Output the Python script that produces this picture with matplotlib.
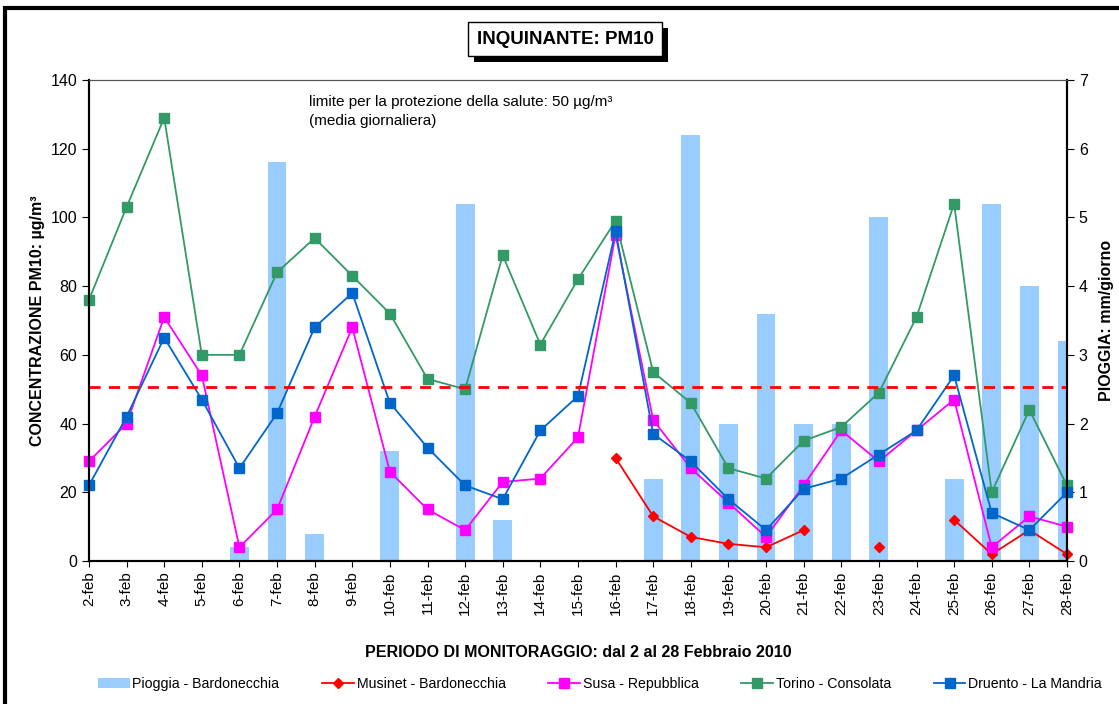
import matplotlib
matplotlib.use("Agg")
import matplotlib.pyplot as plt
from matplotlib.patches import Rectangle, Patch
from matplotlib.lines import Line2D
import matplotlib.patheffects as pe
import numpy as np

plt.rcParams['font.family'] = ['Liberation Sans', 'DejaVu Sans']

days = [f"{d}-feb" for d in range(2, 29)]

pioggia_bardonecchia = [0, 0, 0, 0, 0.2, 5.8, 0.4, 0, 1.6, 0, 5.2, 0.6, 0, 0, 0,
                        1.2, 6.2, 2.0, 3.6, 2.0, 2.0, 5.0, 0, 1.2, 5.2, 4.0, 3.2]
musinet_bardonecchia = [np.nan] * 14 + [30, 13, 7, 5, 4, 9, np.nan, 4, np.nan, 12, 2, 9, 2]
susa_repubblica = [29, 40, 71, 54, 4, 15, 42, 68, 26, 15, 9, 23, 24, 36, 95,
                   41, 27, 17, 7, 22, 38, 29, 38, 47, 4, 13, 10]
torino_consolata = [76, 103, 129, 60, 60, 84, 94, 83, 72, 53, 50, 89, 63, 82, 99,
                    55, 46, 27, 24, 35, 39, 49, 71, 104, 20, 44, 22]
druento_mandria = [22, 42, 65, 47, 27, 43, 68, 78, 46, 33, 22, 18, 38, 48, 96,
                   37, 29, 18, 9, 21, 24, 31, 38, 54, 14, 9, 20]
limite = 50.7

c_rain = '#99CCFF'
c_red = '#FF0000'
c_mag = '#FF00FF'
c_green = '#339966'
c_blue = '#0066CC'

fig = plt.figure(figsize=(11.19, 7.04), dpi=100)
ax = fig.add_axes([0.0795, 0.2031, 0.8740, 0.6833])
ax2 = ax.twinx()
ax.set_zorder(ax2.get_zorder() + 1)
ax.patch.set_visible(False)

x = np.arange(len(days))

# rain bars on secondary axis
ax2.bar(x, pioggia_bardonecchia, width=0.5, color=c_rain, linewidth=0)
ax2.set_ylim(0, 7)
ax2.set_yticks(range(0, 8))

ms = 7
ax.plot(x, musinet_bardonecchia, color=c_red, lw=1.3, marker='D', ms=5.5,
        markeredgecolor=c_red, clip_on=False)
ax.plot(x, susa_repubblica, color=c_mag, lw=1.3, marker='s', ms=ms, clip_on=False)
ax.plot(x, torino_consolata, color=c_green, lw=1.3, marker='s', ms=ms, clip_on=False)
ax.plot(x, druento_mandria, color=c_blue, lw=1.3, marker='s', ms=ms, clip_on=False)
ax.axhline(limite, color=c_red, lw=2, ls=(0, (4, 3)))

ax.set_xlim(0, len(days) - 1)
ax2.set_xlim(0, len(days) - 1)
ax.set_ylim(0, 140)
ax.set_yticks(range(0, 141, 20))
ax.set_xticks(x)
ax.set_xticklabels(days, rotation=90, fontsize=11)
ax.tick_params(axis='y', labelsize=11.5, direction='out', length=5)
ax2.tick_params(axis='y', labelsize=11.5, direction='out', length=5)
ax.tick_params(axis='x', length=4)

for a in (ax, ax2):
    a.spines['top'].set_color('#555555')
    a.spines['left'].set_linewidth(1.5)
    a.spines['right'].set_linewidth(1.5)
    a.spines['bottom'].set_linewidth(1.5)

ax.set_ylabel('CONCENTRAZIONE PM10: µg/m³', fontsize=11.5, fontweight='bold', labelpad=4)
ax2.set_ylabel('PIOGGIA: mm/giorno', fontsize=11.5, fontweight='bold', labelpad=8)
ax.set_xlabel('PERIODO DI MONITORAGGIO: dal 2 al 28 Febbraio 2010', fontsize=11.5,
              fontweight='bold', labelpad=22)

ax.text(0.225, 0.968, 'limite per la protezione della salute: 50 µg/m³\n(media giornaliera)',
        transform=ax.transAxes, fontsize=11, va='top', ha='left', linespacing=1.4)

# outer chart border
fig.patches.append(Rectangle((5 / 1119, -0.05), 1.2, 1.05 - 8 / 704,
                             transform=fig.transFigure, fill=False, lw=3,
                             edgecolor='black'))

# title box with shadow
title = fig.text(0.505, 0.944, 'INQUINANTE: PM10', ha='center', va='center',
                 fontsize=13.5, fontweight='bold',
                 bbox=dict(boxstyle='square,pad=0.45', facecolor='white',
                           edgecolor='black', lw=1))
title.get_bbox_patch().set_path_effects([
    pe.SimplePatchShadow(offset=(4, -4), shadow_rgbFace='black', alpha=1.0),
    pe.Normal()])

handles = [
    Patch(facecolor=c_rain, edgecolor='none'),
    Line2D([], [], color=c_red, marker='D', ms=5.5, lw=1.3),
    Line2D([], [], color=c_mag, marker='s', ms=ms, lw=1.3),
    Line2D([], [], color=c_green, marker='s', ms=ms, lw=1.3),
    Line2D([], [], color=c_blue, marker='s', ms=ms, lw=1.3),
]
labels = ['Pioggia - Bardonecchia', 'Musinet - Bardonecchia', 'Susa - Repubblica',
          'Torino - Consolata', 'Druento - La Mandria']
fig.legend(handles, labels, loc='center', bbox_to_anchor=(0.536, 0.029), ncol=5,
           frameon=False, fontsize=10.2, columnspacing=3.0, handlelength=2.25,
           handletextpad=0.2)

fig.savefig('out.png', dpi=100)
